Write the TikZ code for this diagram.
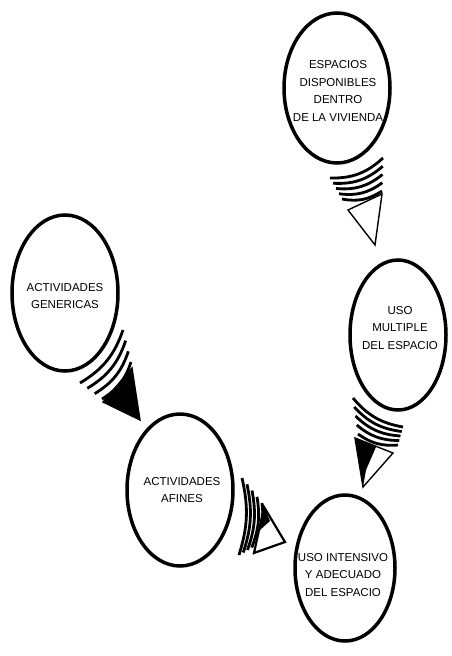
\documentclass[tikz,border=0pt]{standalone}
\usepackage{fontspec}
\setmainfont{Liberation Sans}
\usetikzlibrary{shapes.geometric,calc}
\newcommand\stripeset[6]{%
  \foreach \t in {#6}
    \draw[stripe] ($(#1)!\t!(#3)$) to[#5] ($(#2)!\t!(#4)$);}
\begin{document}
\begin{tikzpicture}[x=1pt,y=1pt,
  bubble/.style={ellipse, draw=black, line width=3.5pt, inner sep=0pt},
  txt/.style={align=center, inner sep=0pt, font=\fontsize{11.5}{17.5}\selectfont},
  stripe/.style={line width=2.8pt, line cap=butt},
  tri/.style={draw=black, line width=1.4pt, line join=miter}]
\useasboundingbox (0,0) rectangle (452,-656);

% bubbles
\node[bubble, minimum width=106pt, minimum height=150pt] (esp) at (337,-88) {};
\node[bubble, minimum width=106pt, minimum height=156pt] (gen) at (65,-293) {};
\node[bubble, minimum width=106pt, minimum height=152pt] (afi) at (180,-490) {};
\node[bubble, minimum width=96pt, minimum height=150pt] (mul) at (398,-335) {};
\node[bubble, minimum width=100pt, minimum height=146pt] (int) at (345,-568) {};

% texts
\node[txt] (espT) at (338,-91) {ESPACIOS\\DISPONIBLES\\DENTRO\\DE LA VIVIENDA};
\node[txt] (genT) at (65,-296) {ACTIVIDADES\\GENERICAS};
\node[txt] (afiT) at (182,-490) {ACTIVIDADES\\AFINES};
\node[txt] (mulT) at (400,-328) {USO\\MULTIPLE\\DEL ESPACIO};
\node[txt] (intT) at (343,-575) {USO INTENSIVO\\Y ADECUADO\\DEL ESPACIO};

% pointer 1: esp -> mul
\coordinate (p1a0) at (330,-178); \coordinate (p1b0) at (383,-158);
\coordinate (p1a1) at (342,-199); \coordinate (p1b1) at (382,-191);
\stripeset{p1a0}{p1b0}{p1a1}{p1b1}{bend right=22}{0,0.25,0.5,0.75,1}
\coordinate (t1a) at (348,-210); \coordinate (t1b) at (382,-194); \coordinate (t1c) at (375,-245);
\draw[tri, fill=white] (t1a) -- (t1b) -- (t1c) -- cycle;

% pointer 2: gen -> afi
\coordinate (p2a0) at (80,-383); \coordinate (p2b0) at (123,-330);
\coordinate (p2a1) at (102,-399); \coordinate (p2b1) at (131,-362);
\stripeset{p2a0}{p2b0}{p2a1}{p2b1}{bend right=20}{0,0.333,0.667,1}
\coordinate (t2a) at (132,-368); \coordinate (t2b) at (103,-402); \coordinate (t2c) at (140,-420);
\draw[tri, fill=black] (t2a) -- (t2b) -- (t2c) -- cycle;

% pointer 3: afi -> int
\coordinate (p3a0) at (242,-478); \coordinate (p3b0) at (239,-555);
\coordinate (p3a1) at (262,-503); \coordinate (p3b1) at (256,-545);
\stripeset{p3a0}{p3b0}{p3a1}{p3b1}{bend left=15}{0,0.25,0.5,0.75,1}
\coordinate (t3a) at (264,-507); \coordinate (t3b) at (285,-542); \coordinate (t3c) at (254,-553);
\draw[tri, fill=white, line width=2.2pt] (t3a) -- (t3b) -- (t3c) -- cycle;
\fill[black] (t3a) -- (270,-521) -- (260,-530) -- cycle;

% pointer 4: mul -> int
\coordinate (p4a0) at (353,-398); \coordinate (p4b0) at (403,-427);
\coordinate (p4a1) at (358,-434); \coordinate (p4b1) at (398,-445);
\stripeset{p4a0}{p4b0}{p4a1}{p4b1}{bend right=20}{0,0.25,0.5,0.75,1}
\coordinate (t4a) at (355,-438); \coordinate (t4b) at (393,-453); \coordinate (t4c) at (363,-487);
\draw[tri, fill=white] (t4a) -- (t4b) -- (t4c) -- cycle;
\fill[black] (t4a) -- (376,-447) -- (366,-470) -- (t4c) -- cycle;
\end{tikzpicture}
\end{document}
